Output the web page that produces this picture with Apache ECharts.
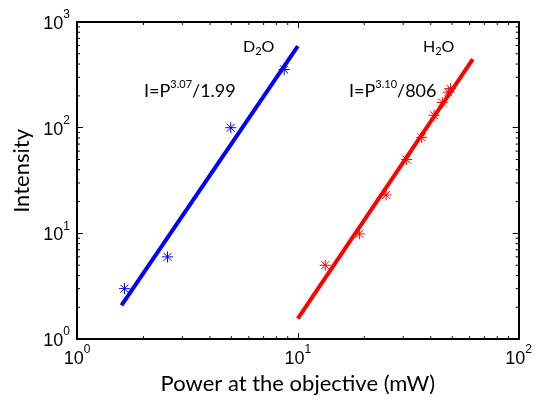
<!DOCTYPE html>
<html>
<head>
<meta charset="utf-8">
<script src="https://cdn.jsdelivr.net/npm/echarts@6/dist/echarts.min.js"></script>
<style>
  html, body { margin: 0; padding: 0; background: #fff; }
  #chart { width: 535px; height: 400px; }
</style>
</head>
<body>
<div id="chart"></div>
<script>
const d2oPower = [1.64, 2.57, 4.97, 8.67];
const d2oIntensity = [3.0, 6.0, 100, 355];
const h2oPower = [13.3, 19.0, 25.1, 31.1, 36.4, 41.4, 45.1, 48.0, 49.1];
const h2oIntensity = [5.0, 9.9, 23.1, 50, 81, 131, 173, 217, 234];

// fit line end points
const d2oFitPower = [1.59, 10];
const d2oFitIntensity = [2.08, 590];
const h2oFitPower = [10, 62];
const h2oFitIntensity = [1.56, 445];

// minor tick positions on the log axes
const xMinorTicks = [2, 3, 4, 5, 6, 7, 8, 9, 20, 30, 40, 50, 60, 70, 80, 90];
const yMinorTicks = [2, 3, 4, 5, 6, 7, 8, 9, 20, 30, 40, 50, 60, 70, 80, 90,
  200, 300, 400, 500, 600, 700, 800, 900];

const asterisk = 'path://M0,-6L0,6M-6,0L6,0M-4.3,-4.3L4.3,4.3M-4.3,4.3L4.3,-4.3';
const tickFont = 'Liberation Sans';
const textFont = 'Lato';

const zip = (a, b) => a.map((v, i) => [v, b[i]]);

const chart = echarts.init(document.getElementById('chart'));

// 10^n labels: superscript raised by using a shorter line box aligned to the top
const powLabel = value => {
  const e = Math.round(Math.log10(value));
  return '{b|10}{s|' + e + '}';
};
const powRich = {
  b: { fontFamily: tickFont, fontSize: 18, lineHeight: 30, color: '#000', verticalAlign: 'middle' },
  s: { fontFamily: tickFont, fontSize: 12, lineHeight: 10, color: '#000', verticalAlign: 'top' }
};

const baseX = {
  type: 'log', logBase: 10, min: 1, max: 100,
  axisLine: { show: true, onZero: false, lineStyle: { color: '#000', width: 2 } },
  axisTick: { show: true, inside: true, length: 6, lineStyle: { color: '#000', width: 1 } },
  splitLine: { show: false },
  minorTick: { show: false }
};
const baseY = {
  type: 'log', logBase: 10, min: 1, max: 1000,
  axisLine: { show: true, onZero: false, lineStyle: { color: '#000', width: 2 } },
  axisTick: { show: true, inside: true, length: 6, lineStyle: { color: '#000', width: 1 } },
  splitLine: { show: false },
  minorTick: { show: false }
};

const minorTickSeries = (isX, data) => ({
  type: 'custom',
  xAxisIndex: 0,
  yAxisIndex: 0,
  silent: true,
  clip: false,
  data: data.map(v => (isX ? [v, 1] : [1, v])),
  renderItem: (params, api) => {
    const cs = params.coordSys;
    const p = api.coord([api.value(0), api.value(1)]);
    const len = 3;
    const style = { stroke: '#000', lineWidth: 1 };
    if (isX) {
      return {
        type: 'group',
        children: [
          { type: 'line', shape: { x1: p[0], y1: cs.y + cs.height, x2: p[0], y2: cs.y + cs.height - len }, style },
          { type: 'line', shape: { x1: p[0], y1: cs.y, x2: p[0], y2: cs.y + len }, style }
        ]
      };
    }
    return {
      type: 'group',
      children: [
        { type: 'line', shape: { x1: cs.x, y1: p[1], x2: cs.x + len, y2: p[1] }, style },
        { type: 'line', shape: { x1: cs.x + cs.width, y1: p[1], x2: cs.x + cs.width - len, y2: p[1] }, style }
      ]
    };
  }
});

const subRich = {
  n: { fontFamily: textFont, fontSize: 16, lineHeight: 20, fill: '#000', verticalAlign: 'middle' },
  d: { fontFamily: textFont, fontSize: 11, lineHeight: 10, fill: '#000', verticalAlign: 'bottom' }
};
const supRich = {
  n: { fontFamily: textFont, fontSize: 18, lineHeight: 24, fill: '#000', verticalAlign: 'middle' },
  s: { fontFamily: textFont, fontSize: 11, lineHeight: 8, fill: '#000', verticalAlign: 'top' }
};

const option = {
  animation: false,
  backgroundColor: '#fff',
  grid: { left: 77, right: 13, top: 22, bottom: 58 },
  xAxis: [
    Object.assign({}, baseX, {
      position: 'bottom',
      name: 'Power at the objective (mW)',
      nameLocation: 'middle',
      nameGap: 30,
      nameTextStyle: { fontFamily: textFont, fontSize: 22, color: '#000' },
      axisLabel: { margin: 5, formatter: powLabel, rich: powRich }
    }),
    Object.assign({}, baseX, { position: 'top', axisLabel: { show: false } })
  ],
  yAxis: [
    Object.assign({}, baseY, {
      position: 'left',
      axisLabel: { margin: 7, padding: [4, 0, 0, 0], formatter: powLabel, rich: powRich }
    }),
    Object.assign({}, baseY, { position: 'right', axisLabel: { show: false } })
  ],
  graphic: [
    {
      type: 'text', left: 11, top: 129,
      rotation: Math.PI / 2,
      style: { text: 'Intensity', fontFamily: textFont, fontSize: 22, fill: '#000' }
    },
    {
      type: 'text', left: 243, top: 39,
      style: { text: '{n|D}{d|2}{n|O}', rich: subRich }
    },
    {
      type: 'text', left: 423, top: 39,
      style: { text: '{n|H}{d|2}{n|O}', rich: subRich }
    },
    {
      type: 'text', left: 144, top: 79,
      style: { text: '{n|I=P}{s|3.07}{n|/1.99}', rich: supRich }
    },
    {
      type: 'text', left: 349, top: 79,
      style: { text: '{n|I=P}{s|3.10}{n|/806}', rich: supRich }
    }
  ],
  series: [
    minorTickSeries(true, xMinorTicks),
    minorTickSeries(false, yMinorTicks),
    {
      name: 'D2O fit', type: 'line', data: zip(d2oFitPower, d2oFitIntensity),
      showSymbol: false, lineStyle: { color: '#0000ff', width: 4 }, z: 3
    },
    {
      name: 'H2O fit', type: 'line', data: zip(h2oFitPower, h2oFitIntensity),
      showSymbol: false, lineStyle: { color: '#ff0000', width: 4 }, z: 3
    },
    {
      name: 'D2O', type: 'scatter', data: zip(d2oPower, d2oIntensity),
      symbol: asterisk, symbolSize: 11,
      itemStyle: { color: 'none', borderColor: '#0000ff', borderWidth: 1, opacity: 1 }, z: 4
    },
    {
      name: 'H2O', type: 'scatter', data: zip(h2oPower, h2oIntensity),
      symbol: asterisk, symbolSize: 11,
      itemStyle: { color: 'none', borderColor: '#ff0000', borderWidth: 1, opacity: 1 }, z: 4
    }
  ]
};

chart.setOption(option);
window.addEventListener('resize', () => chart.resize());
</script>
</body>
</html>
